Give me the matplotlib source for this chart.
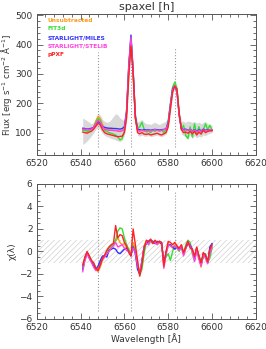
import numpy as np
import matplotlib
matplotlib.use('Agg')
import matplotlib.pyplot as plt
from matplotlib.ticker import MultipleLocator, AutoMinorLocator

# wavelength grid [A]
wave = np.arange(6541, 6601)

# flux spectra (10^-16 erg/s/cm2/A)
flux_unsub = [110, 110, 108, 110, 112, 120, 140, 155, 148, 128,
              115, 112, 110, 110, 108, 108, 106, 106, 108, 115,
              170, 320, 420, 300, 150, 110, 105, 108, 105, 106,
              108, 106, 108, 110, 108, 106, 108, 110, 112, 130,
              190, 245, 262, 240, 160, 115, 108, 110, 106, 110,
              104, 108, 100, 108, 104, 110, 106, 108, 110, 110]
flux_fit3d = [108, 108, 104, 108, 110, 118, 135, 148, 142, 122,
              108, 104, 100, 98, 95, 92, 85, 75, 80, 105,
              165, 320, 425, 310, 160, 115, 120, 135, 112, 102,
              105, 100, 108, 104, 110, 105, 108, 100, 110, 140,
              200, 255, 272, 250, 165, 110, 125, 90, 80, 120,
              85, 130, 95, 120, 100, 110, 130, 110, 125, 108]
flux_miles = [115, 114, 112, 113, 115, 118, 128, 138, 132, 120,
              118, 116, 115, 115, 114, 114, 113, 112, 114, 120,
              175, 330, 432, 310, 155, 112, 110, 108, 110, 109,
              110, 108, 110, 111, 110, 109, 110, 111, 112, 135,
              195, 250, 258, 240, 160, 115, 110, 112, 108, 111,
              106, 110, 104, 110, 106, 112, 108, 110, 110, 110]
flux_stelib = [112, 112, 110, 111, 112, 118, 130, 142, 136, 120,
               112, 110, 108, 108, 107, 107, 105, 104, 106, 112,
               170, 320, 425, 305, 150, 108, 105, 108, 106, 107,
               108, 106, 108, 110, 108, 107, 108, 110, 112, 130,
               192, 246, 260, 242, 160, 114, 108, 110, 107, 110,
               105, 109, 102, 108, 104, 110, 106, 108, 110, 110]
flux_ppxf = [102, 100, 98, 102, 105, 112, 122, 132, 126, 110,
             100, 96, 94, 92, 90, 88, 86, 87, 88, 100,
             150, 290, 395, 300, 150, 100, 96, 100, 95, 94,
             96, 92, 94, 96, 98, 94, 92, 96, 100, 120,
             180, 238, 258, 248, 165, 110, 100, 102, 98, 104,
             96, 104, 92, 102, 95, 108, 100, 104, 106, 106]

# grey error envelope
band_lo = [60, 65, 72, 80, 90, 100, 112, 118, 110, 98,
           90, 86, 84, 80, 78, 75, 72, 70, 74, 90,
           140, 280, 385, 290, 140, 90, 88, 92, 88, 88,
           90, 86, 88, 90, 92, 88, 86, 90, 95, 115,
           170, 230, 250, 232, 150, 95, 90, 85, 78, 92,
           80, 90, 82, 88, 85, 92, 90, 95, 98, 100]
band_hi = [150, 145, 140, 135, 130, 135, 150, 165, 160, 145,
           138, 135, 138, 145, 155, 165, 160, 150, 145, 140,
           185, 340, 440, 320, 170, 135, 140, 145, 135, 130,
           130, 128, 132, 135, 130, 128, 132, 135, 140, 150,
           205, 260, 280, 258, 175, 140, 138, 135, 140, 138,
           135, 138, 132, 136, 130, 135, 138, 130, 128, 125]

# residuals chi(lambda)
chi_unsub = [-1.4, -0.6, -0.1, -0.5, -0.8, -1.2, -1.6, -1.8, -1.4, -0.8,
             -0.5, -0.2, 0.1, 0.4, 0.6, 0.9, 1.2, 0.8, 0.6, 0.7,
             0.3, 0.1, -0.2, 0.8, 0.2, -1.2, -2.0, -1.0, 0.5, 0.9,
             0.7, 1.0, 0.8, 0.9, 0.6, 0.8, 0.7, -1.2, -0.2, 0.7,
             0.5, 0.3, 0.6, 0.4, 0.2, 0.5, -0.3, 0.2, 0.8, 0.4,
             0.1, -0.6, 0.2, -0.6, -1.4, -0.3, -0.5, -1.0, -0.1, 0.5]
chi_fit3d = [-1.3, -0.5, -0.1, -0.4, -0.9, -1.1, -1.4, -1.6, -1.0, -0.6,
             -0.4, 0.0, 0.3, 0.5, 0.6, 1.0, 1.8, 2.1, 2.0, 1.2,
             0.6, 0.2, -0.3, 0.5, 0.0, -1.0, -2.1, -1.6, -0.2, 0.8,
             0.8, 0.9, 0.7, 0.9, 0.8, 0.9, 0.6, -0.8, -0.5, -0.2,
             -0.8, 0.0, 0.5, 0.3, 0.0, 0.4, -0.2, 0.6, 1.0, 0.8,
             -0.2, -0.8, 0.0, -0.3, -0.9, -0.6, -0.2, -1.0, -0.6, 0.3]
chi_miles = [-1.6, -0.7, -0.1, -0.6, -0.9, -1.3, -1.6, -1.3, -0.8, -0.4,
             -0.4, -0.5, 0.1, 0.2, 0.3, 0.2, -0.1, -0.2, 0.0, 0.2,
             0.3, 0.0, -0.4, 0.4, -0.2, -1.6, -2.0, -0.8, 0.4, 0.7,
             0.9, 1.0, 0.9, 0.7, 0.9, 0.8, 0.7, -1.0, -0.1, 0.6,
             0.6, 0.4, 0.2, 0.4, 0.2, 0.4, -0.2, 0.3, 0.7, 0.6,
             0.2, -0.6, 0.3, -0.5, -1.2, -0.2, -0.4, -1.0, 0.4, 0.7]
chi_stelib = [-1.8, -0.8, -0.2, -0.6, -1.0, -1.4, -1.7, -1.5, -1.2, -0.7,
              -0.5, -0.2, 0.0, 0.3, 0.5, 0.8, 0.4, 0.5, 0.6, 0.3,
              0.1, 0.0, -0.2, 0.3, -0.1, -1.3, -1.9, -0.9, 0.4, 0.8,
              0.6, 0.9, 0.8, 0.8, 0.6, 0.9, 0.8, -1.5, -0.3, 0.6,
              0.5, 0.4, 0.5, 0.3, 0.1, 0.5, -0.4, 0.3, 0.9, 0.5,
              0.0, -0.9, 0.1, -0.7, -1.3, -0.2, -0.6, -1.1, -0.2, 0.4]
chi_ppxf = [-1.2, -0.5, 0.0, -0.4, -0.8, -1.0, -1.5, -1.7, -1.2, -0.6,
            -0.3, 0.1, 0.4, 0.6, 0.7, 2.3, 1.2, 1.5, 1.4, 0.8,
            0.5, -0.1, -0.4, 2.0, 0.6, -0.8, -2.2, -1.2, 0.3, 1.0,
            0.9, 1.1, 0.7, 1.0, 0.8, 0.9, 0.8, -1.3, 0.0, 0.9,
            0.8, 0.6, 0.8, 0.5, 0.3, 0.6, -0.1, 0.4, 0.9, 0.3,
            0.2, -0.4, 0.4, -0.4, -1.0, -0.1, -0.3, -0.9, 0.2, 0.6]

labels = ['Unsubtracted', 'FIT3d', 'STARLIGHT/MILES', 'STARLIGHT/STELIB', 'pPXF']
colors = ['#ff9a1a', '#33e033', '#3333ff', '#ff44dd', '#ff2222']
lines_wave = [6548, 6563, 6583]
lines_top = [375, 400, 390]

txt = '#333333'
plt.rcParams['font.family'] = 'DejaVu Sans'
plt.rcParams['font.size'] = 6.5
plt.rcParams['hatch.linewidth'] = 0.5

fig = plt.figure(figsize=(2.66, 3.49), dpi=100)
ax1 = fig.add_axes([0.138, 0.556, 0.824, 0.404])
ax2 = fig.add_axes([0.138, 0.086, 0.824, 0.387])

flux = [flux_unsub, flux_fit3d, flux_miles, flux_stelib, flux_ppxf]
chi = [chi_unsub, chi_fit3d, chi_miles, chi_stelib, chi_ppxf]

ax1.fill_between(wave, band_lo, band_hi, color='#d8d8d8', lw=0, zorder=1)
for wl, top in zip(lines_wave, lines_top):
    ax1.plot([wl, wl], [50, top], ls=':', color='#999999', lw=0.8, zorder=2)
for f, c in zip(flux, colors):
    ax1.plot(wave, f, color=c, lw=1.0, zorder=3)
for i, (lab, c) in enumerate(zip(labels, colors)):
    ax1.text(0.05, 0.957 - i * 0.062, lab, color=c, fontsize=4.2,
             fontweight='bold', transform=ax1.transAxes, va='center')
ax1.set_xlim(6520, 6620)
ax1.set_ylim(24, 504)
ax1.set_title('spaxel [h]', fontsize=8, color=txt, pad=3)
ax1.set_ylabel('Flux [erg s$^{-1}$ cm$^{-2}$ Å$^{-1}$]', color=txt,
               fontsize=6.2, labelpad=1)

ax2.fill_between([6520, 6620], [-1, -1], [1, 1], facecolor='none',
                 edgecolor='#d0d0d0', hatch='//////', lw=0, zorder=1)
for wl in lines_wave:
    ax2.plot([wl, wl], [-5.3, 5.3], ls=':', color='#999999', lw=0.8, zorder=2)
for r, c in zip(chi, colors):
    ax2.plot(wave, r, color=c, lw=1.0, zorder=3)
ax2.set_xlim(6520, 6620)
ax2.set_ylim(-6, 6)
ax2.set_xlabel('Wavelength [Å]', color=txt, labelpad=1)
ax2.set_ylabel('χ(λ)', color=txt, labelpad=2)

ax1.yaxis.set_major_locator(MultipleLocator(100))
ax1.yaxis.set_minor_locator(AutoMinorLocator(5))
ax2.yaxis.set_major_locator(MultipleLocator(2))
ax2.yaxis.set_minor_locator(AutoMinorLocator(4))
for ax in (ax1, ax2):
    ax.xaxis.set_major_locator(MultipleLocator(20))
    ax.xaxis.set_minor_locator(AutoMinorLocator(5))
    ax.tick_params(which='both', direction='in', top=True, right=True,
                   colors='#555555', labelcolor=txt, width=0.6)
    ax.tick_params(which='major', length=4, pad=3)
    ax.tick_params(which='minor', length=2)
    for s in ax.spines.values():
        s.set_color('#555555')
        s.set_linewidth(0.7)

fig.savefig('out.png', dpi=100)
